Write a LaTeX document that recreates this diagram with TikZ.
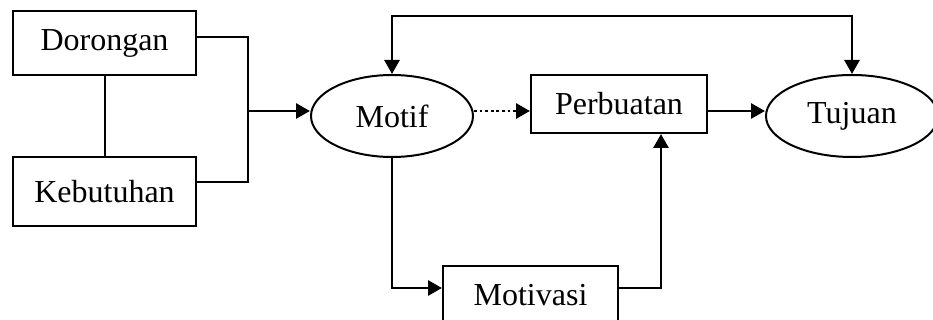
\documentclass[tikz,border=0pt]{standalone}
\usepackage{fontspec}
\setmainfont{Liberation Serif}
\usetikzlibrary{arrows.meta,positioning,shapes.geometric}

\tikzset{
  box/.style={draw, line width=1pt, rectangle, inner sep=0pt, minimum width=91.5pt},
  oval/.style={draw, line width=1pt, ellipse, inner sep=0pt, minimum height=41pt},
  link/.style={line width=1pt},
  arrow/.style={line width=1.4pt, -{Triangle[length=7pt,width=7.5pt]}},
}

\begin{document}
\begin{tikzpicture}[font=\fontsize{16}{19}\selectfont]
    \useasboundingbox (0,0) rectangle (466.5pt,-160pt);
    \clip (0,0) rectangle (466.5pt,-160pt);
    \node[box, minimum height=32pt] (dorongan) at (52.25pt,-21.75pt) {Dorongan};
    \node[box, minimum height=34.5pt] (kebutuhan) [below=39.75pt of dorongan] {Kebutuhan};
    \node[oval, minimum width=81pt] (motif) [right=56.5pt of dorongan, yshift=-36.25pt] {Motif};
    \node[box, minimum width=88pt, minimum height=29pt] (perbuatan) [right=28pt of motif, yshift=6pt] {Perbuatan};
    \node[oval, minimum width=86pt] (tujuan) [right=28.5pt of perbuatan, yshift=-6pt] {Tujuan};
    \node[box, minimum width=87.5pt, minimum height=29pt] (motivasi) [below right=53.5pt and 25pt of motif.south] {Motivasi};
    \coordinate (join) at ([xshift=-31pt,yshift=2.5pt]motif.west);
    \draw[link] (dorongan) -- (kebutuhan);
    \draw[link] ([yshift=3pt]dorongan.east) -| (join);
    \draw[link] ([yshift=4.5pt]kebutuhan.east) -| (join);
    \draw[arrow] (join) -- (join -| motif.west);
    \draw[arrow, dash pattern=on 1.4pt off 1.4pt] (motif.east |- join) -- (join -| perbuatan.west);
    \draw[arrow] (perbuatan.east |- join) -- (join -| tujuan.west);
    \draw[arrow, {Triangle[length=7pt,width=7.5pt]}-{Triangle[length=7pt,width=7.5pt]}] (motif.north) -- ++(0,29pt) -| (tujuan.north);
    \draw[arrow] (motif.south) |- ([yshift=3.5pt]motivasi.west);
    \draw[arrow] ([yshift=3.5pt]motivasi.east) -| ([xshift=21pt]perbuatan.south);
\end{tikzpicture}
\end{document}
